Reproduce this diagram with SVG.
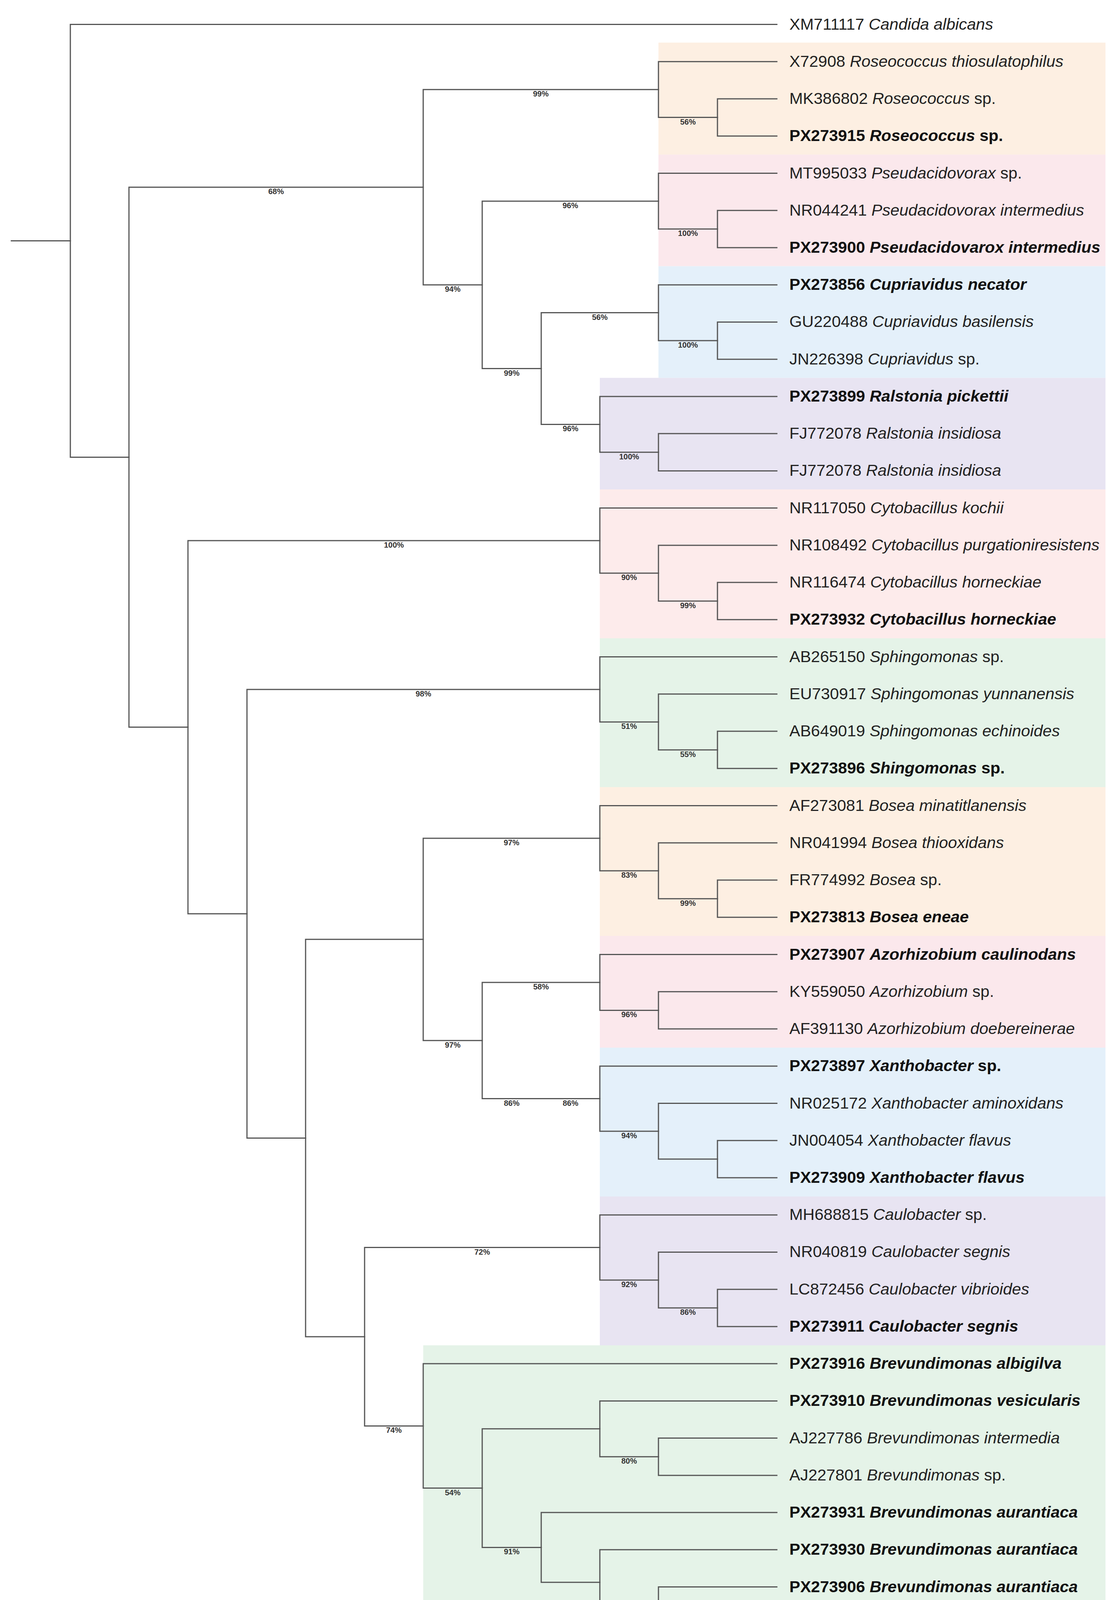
<svg xmlns="http://www.w3.org/2000/svg" width="2861" height="4327" viewBox="0 0 2861 4327">
<style>
.br{fill:none;stroke:#555;stroke-width:3;stroke-linecap:square;stroke-linejoin:miter}
.lf{font-family:"Liberation Sans",Arial,sans-serif;font-size:41.5px;fill:#222}
.bd{font-weight:bold;fill:#111}
.it{font-style:italic}
.bs{font-family:"Liberation Sans",Arial,sans-serif;font-size:20px;font-weight:bold;fill:#333;text-anchor:middle}
.peach{fill:#fdefe2}.pink{fill:#fbe8ec}.blue{fill:#e4f0fa}.lav{fill:#e8e4f2}.rose{fill:#fdebeb}.green{fill:#e5f3e8}
</style>
<rect width="2861" height="4327" fill="#ffffff"/>
<g id="clade-backgrounds">
<rect class="peach" x="1685" y="109.1" width="1144" height="286.7"/>
<rect class="pink" x="1685" y="395.8" width="1144" height="285.7"/>
<rect class="blue" x="1685" y="681.5" width="1144" height="285.8"/>
<rect class="lav" x="1535" y="967.3" width="1294" height="285.7"/>
<rect class="rose" x="1535" y="1253" width="1294" height="381"/>
<rect class="green" x="1535" y="1634" width="1294" height="381"/>
<rect class="peach" x="1535" y="2015" width="1294" height="381"/>
<rect class="pink" x="1535" y="2396" width="1294" height="286"/>
<rect class="blue" x="1535" y="2682" width="1294" height="381"/>
<rect class="lav" x="1535" y="3063" width="1294" height="381"/>
<rect class="green" x="1083" y="3444" width="1746" height="856"/>
</g>
<g id="connectors">
<path class="br" d="M29 616.5 H180"/>
<path class="br" d="M1988 62.5 H180 V1170.4 H330"/>
<path class="br" d="M1083 479.2 H330 V1861.6 H481"/>
<path class="br" d="M1685 229.2 H1083 V729.2 H1234"/>
<path class="br" d="M1988 157.7 H1685 V300.6 H1836"/>
<path class="br" d="M1988 253.0 H1836 V348.2 H1988"/>
<path class="br" d="M1685 514.9 H1234 V943.5 H1385"/>
<path class="br" d="M1988 443.5 H1685 V586.3 H1836"/>
<path class="br" d="M1988 538.7 H1836 V633.9 H1988"/>
<path class="br" d="M1685 800.6 H1385 V1086.4 H1535"/>
<path class="br" d="M1988 729.2 H1685 V872.1 H1836"/>
<path class="br" d="M1988 824.4 H1836 V919.7 H1988"/>
<path class="br" d="M1988 1014.9 H1535 V1157.8 H1685"/>
<path class="br" d="M1988 1110.1 H1685 V1205.4 H1988"/>
<path class="br" d="M1535 1384.0 H481 V2339.2 H632"/>
<path class="br" d="M1988 1300.6 H1535 V1467.3 H1685"/>
<path class="br" d="M1988 1395.9 H1685 V1538.7 H1836"/>
<path class="br" d="M1988 1491.1 H1836 V1586.3 H1988"/>
<path class="br" d="M1535 1765.0 H632 V2913.4 H782"/>
<path class="br" d="M1988 1681.6 H1535 V1848.3 H1685"/>
<path class="br" d="M1988 1776.8 H1685 V1919.7 H1836"/>
<path class="br" d="M1988 1872.1 H1836 V1967.3 H1988"/>
<path class="br" d="M1083 2404.8 H782 V3422.0 H933"/>
<path class="br" d="M1535 2145.9 H1083 V2663.8 H1234"/>
<path class="br" d="M1988 2062.5 H1535 V2229.2 H1685"/>
<path class="br" d="M1988 2157.8 H1685 V2300.7 H1836"/>
<path class="br" d="M1988 2253.0 H1836 V2348.3 H1988"/>
<path class="br" d="M1535 2515.0 H1234 V2812.6 H1535"/>
<path class="br" d="M1988 2443.5 H1535 V2586.4 H1685"/>
<path class="br" d="M1988 2538.7 H1685 V2634.0 H1988"/>
<path class="br" d="M1988 2729.2 H1535 V2895.9 H1685"/>
<path class="br" d="M1988 2824.5 H1685 V2967.3 H1836"/>
<path class="br" d="M1988 2919.7 H1836 V3014.9 H1988"/>
<path class="br" d="M1535 3193.5 H933 V3650.4 H1083"/>
<path class="br" d="M1988 3110.2 H1535 V3276.9 H1685"/>
<path class="br" d="M1988 3205.4 H1685 V3348.3 H1836"/>
<path class="br" d="M1988 3300.7 H1836 V3395.9 H1988"/>
<path class="br" d="M1988 3491.1 H1083 V3809.6 H1234"/>
<path class="br" d="M1535 3657.8 H1234 V3961.4 H1385"/>
<path class="br" d="M1988 3586.4 H1535 V3729.2 H1685"/>
<path class="br" d="M1988 3681.6 H1685 V3776.9 H1988"/>
<path class="br" d="M1988 3872.1 H1385 V4050.7 H1535"/>
<path class="br" d="M1988 3967.3 H1535 V4134.0 H1685"/>
<path class="br" d="M1988 4062.6 H1685 V4205.5 H1836"/>
<path class="br" d="M1988 4157.8 H1836 V4253.1 H1988"/>
</g>
<g id="support-values">
<text class="bs" x="706.5" y="497.2">68%</text>
<text class="bs" x="1384" y="247.2">99%</text>
<text class="bs" x="1760.5" y="318.6">56%</text>
<text class="bs" x="1158.5" y="747.2">94%</text>
<text class="bs" x="1459.5" y="532.9">96%</text>
<text class="bs" x="1760.5" y="604.3">100%</text>
<text class="bs" x="1309.5" y="961.5">99%</text>
<text class="bs" x="1535" y="818.6">56%</text>
<text class="bs" x="1760.5" y="890.1">100%</text>
<text class="bs" x="1460" y="1104.4">96%</text>
<text class="bs" x="1610" y="1175.8">100%</text>
<text class="bs" x="1008" y="1402">100%</text>
<text class="bs" x="1610" y="1485.3">90%</text>
<text class="bs" x="1760.5" y="1556.7">99%</text>
<text class="bs" x="1083.5" y="1783">98%</text>
<text class="bs" x="1610" y="1866.3">51%</text>
<text class="bs" x="1760.5" y="1937.7">55%</text>
<text class="bs" x="1309" y="2163.9">97%</text>
<text class="bs" x="1610" y="2247.2">83%</text>
<text class="bs" x="1760.5" y="2318.7">99%</text>
<text class="bs" x="1158.5" y="2681.8">97%</text>
<text class="bs" x="1384.5" y="2533">58%</text>
<text class="bs" x="1610" y="2604.4">96%</text>
<text class="bs" x="1309.5" y="2830.6">86%</text>
<text class="bs" x="1460" y="2830.6">86%</text>
<text class="bs" x="1610" y="2913.9">94%</text>
<text class="bs" x="1234" y="3211.5">72%</text>
<text class="bs" x="1610" y="3294.9">92%</text>
<text class="bs" x="1760.5" y="3366.3">86%</text>
<text class="bs" x="1008" y="3668.4">74%</text>
<text class="bs" x="1158.5" y="3827.6">54%</text>
<text class="bs" x="1610" y="3747.2">80%</text>
<text class="bs" x="1309.5" y="3979.4">91%</text>
</g>
<g id="leaf-00"><text class="lf" x="2020" y="75.5">XM711117 <tspan class="it">Candida albicans</tspan></text></g>
<g id="leaf-01"><text class="lf" x="2020" y="170.7">X72908 <tspan class="it">Roseococcus thiosulatophilus</tspan></text></g>
<g id="leaf-02"><text class="lf" x="2020" y="266.0">MK386802 <tspan class="it">Roseococcus</tspan> sp.</text></g>
<g id="leaf-03"><text class="lf bd" x="2020" y="361.2">PX273915 <tspan class="it">Roseococcus</tspan> sp.</text></g>
<g id="leaf-04"><text class="lf" x="2020" y="456.5">MT995033 <tspan class="it">Pseudacidovorax</tspan> sp.</text></g>
<g id="leaf-05"><text class="lf" x="2020" y="551.7">NR044241 <tspan class="it">Pseudacidovorax intermedius</tspan></text></g>
<g id="leaf-06"><text class="lf bd" x="2020" y="646.9">PX273900 <tspan class="it">Pseudacidovarox intermedius</tspan></text></g>
<g id="leaf-07"><text class="lf bd" x="2020" y="742.2">PX273856 <tspan class="it">Cupriavidus necator</tspan></text></g>
<g id="leaf-08"><text class="lf" x="2020" y="837.4">GU220488 <tspan class="it">Cupriavidus basilensis</tspan></text></g>
<g id="leaf-09"><text class="lf" x="2020" y="932.7">JN226398 <tspan class="it">Cupriavidus</tspan> sp.</text></g>
<g id="leaf-10"><text class="lf bd" x="2020" y="1027.9">PX273899 <tspan class="it">Ralstonia pickettii</tspan></text></g>
<g id="leaf-11"><text class="lf" x="2020" y="1123.1">FJ772078 <tspan class="it">Ralstonia insidiosa</tspan></text></g>
<g id="leaf-12"><text class="lf" x="2020" y="1218.4">FJ772078 <tspan class="it">Ralstonia insidiosa</tspan></text></g>
<g id="leaf-13"><text class="lf" x="2020" y="1313.6">NR117050 <tspan class="it">Cytobacillus kochii</tspan></text></g>
<g id="leaf-14"><text class="lf" x="2020" y="1408.9">NR108492 <tspan class="it">Cytobacillus purgationiresistens</tspan></text></g>
<g id="leaf-15"><text class="lf" x="2020" y="1504.1">NR116474 <tspan class="it">Cytobacillus horneckiae</tspan></text></g>
<g id="leaf-16"><text class="lf bd" x="2020" y="1599.3">PX273932 <tspan class="it">Cytobacillus horneckiae</tspan></text></g>
<g id="leaf-17"><text class="lf" x="2020" y="1694.6">AB265150 <tspan class="it">Sphingomonas</tspan> sp.</text></g>
<g id="leaf-18"><text class="lf" x="2020" y="1789.8">EU730917 <tspan class="it">Sphingomonas yunnanensis</tspan></text></g>
<g id="leaf-19"><text class="lf" x="2020" y="1885.1">AB649019 <tspan class="it">Sphingomonas echinoides</tspan></text></g>
<g id="leaf-20"><text class="lf bd" x="2020" y="1980.3">PX273896 <tspan class="it">Shingomonas</tspan> sp.</text></g>
<g id="leaf-21"><text class="lf" x="2020" y="2075.5">AF273081 <tspan class="it">Bosea minatitlanensis</tspan></text></g>
<g id="leaf-22"><text class="lf" x="2020" y="2170.8">NR041994 <tspan class="it">Bosea thiooxidans</tspan></text></g>
<g id="leaf-23"><text class="lf" x="2020" y="2266.0">FR774992 <tspan class="it">Bosea</tspan> sp.</text></g>
<g id="leaf-24"><text class="lf bd" x="2020" y="2361.3">PX273813 <tspan class="it">Bosea eneae</tspan></text></g>
<g id="leaf-25"><text class="lf bd" x="2020" y="2456.5">PX273907 <tspan class="it">Azorhizobium caulinodans</tspan></text></g>
<g id="leaf-26"><text class="lf" x="2020" y="2551.7">KY559050 <tspan class="it">Azorhizobium</tspan> sp.</text></g>
<g id="leaf-27"><text class="lf" x="2020" y="2647.0">AF391130 <tspan class="it">Azorhizobium doebereinerae</tspan></text></g>
<g id="leaf-28"><text class="lf bd" x="2020" y="2742.2">PX273897 <tspan class="it">Xanthobacter</tspan> sp.</text></g>
<g id="leaf-29"><text class="lf" x="2020" y="2837.5">NR025172 <tspan class="it">Xanthobacter aminoxidans</tspan></text></g>
<g id="leaf-30"><text class="lf" x="2020" y="2932.7">JN004054 <tspan class="it">Xanthobacter flavus</tspan></text></g>
<g id="leaf-31"><text class="lf bd" x="2020" y="3027.9">PX273909 <tspan class="it">Xanthobacter flavus</tspan></text></g>
<g id="leaf-32"><text class="lf" x="2020" y="3123.2">MH688815 <tspan class="it">Caulobacter</tspan> sp.</text></g>
<g id="leaf-33"><text class="lf" x="2020" y="3218.4">NR040819 <tspan class="it">Caulobacter segnis</tspan></text></g>
<g id="leaf-34"><text class="lf" x="2020" y="3313.7">LC872456 <tspan class="it">Caulobacter vibrioides</tspan></text></g>
<g id="leaf-35"><text class="lf bd" x="2020" y="3408.9">PX273911 <tspan class="it">Caulobacter segnis</tspan></text></g>
<g id="leaf-36"><text class="lf bd" x="2020" y="3504.1">PX273916 <tspan class="it">Brevundimonas albigilva</tspan></text></g>
<g id="leaf-37"><text class="lf bd" x="2020" y="3599.4">PX273910 <tspan class="it">Brevundimonas vesicularis</tspan></text></g>
<g id="leaf-38"><text class="lf" x="2020" y="3694.6">AJ227786 <tspan class="it">Brevundimonas intermedia</tspan></text></g>
<g id="leaf-39"><text class="lf" x="2020" y="3789.9">AJ227801 <tspan class="it">Brevundimonas</tspan> sp.</text></g>
<g id="leaf-40"><text class="lf bd" x="2020" y="3885.1">PX273931 <tspan class="it">Brevundimonas aurantiaca</tspan></text></g>
<g id="leaf-41"><text class="lf bd" x="2020" y="3980.3">PX273930 <tspan class="it">Brevundimonas aurantiaca</tspan></text></g>
<g id="leaf-42"><text class="lf bd" x="2020" y="4075.6">PX273906 <tspan class="it">Brevundimonas aurantiaca</tspan></text></g>
<g id="leaf-43"><text class="lf" x="2020" y="4170.8">AJ227787 <tspan class="it">Brevundimonas aurantiaca</tspan></text></g>
<g id="leaf-44"><text class="lf bd" x="2020" y="4266.1">PX273898 <tspan class="it">Brevundimonas aurantiaca</tspan></text></g>
</svg>
